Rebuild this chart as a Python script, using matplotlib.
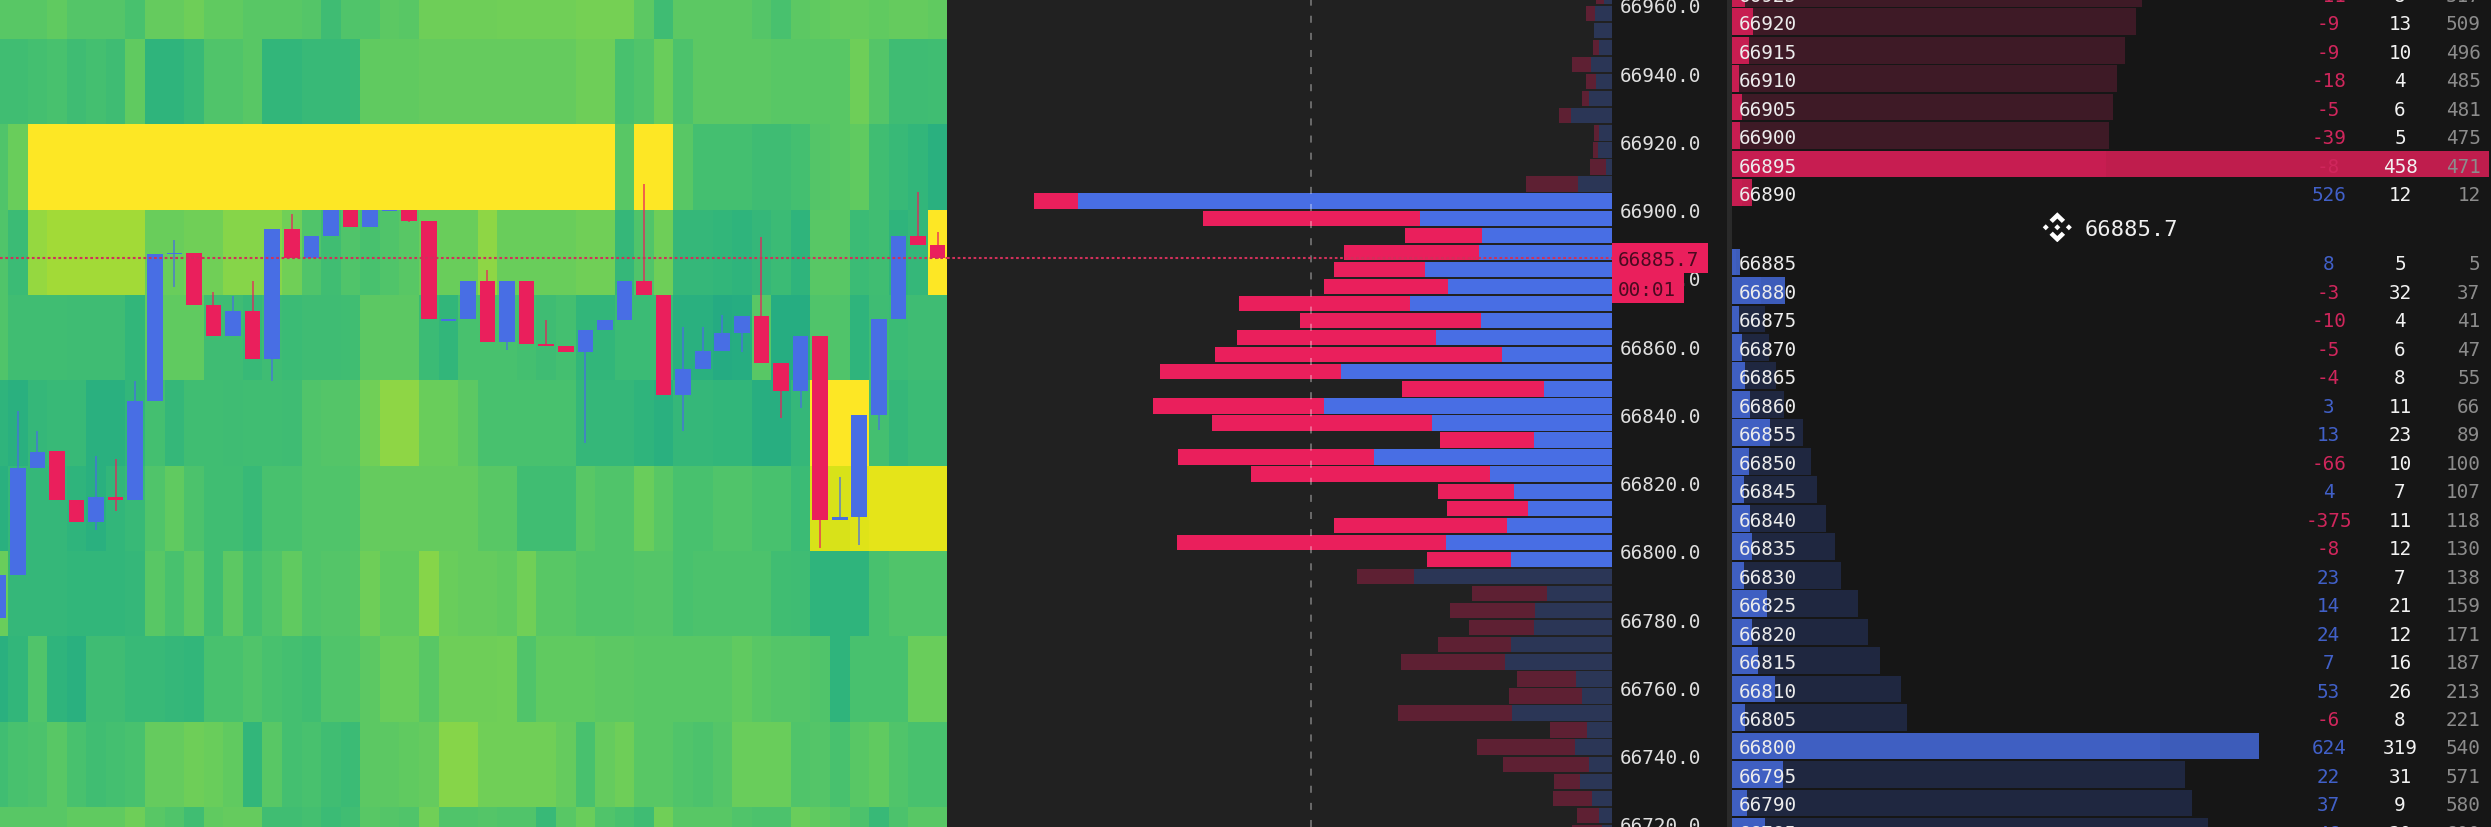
import numpy as np
import matplotlib
matplotlib.use('Agg')
import matplotlib.pyplot as plt
from matplotlib.patches import Polygon, Rectangle

W, H = 2491, 828

# heatmap, one list per 25 point price bucket, 49 time columns
heat_66950 = [74,74,74,76,73,73,73,70,77,77,79,76,76,74,74,74,73,67,72,72,75,74,79,79,79,79,80,80,80,80,81,81,81,75,67,75,75,75,75,73,70,75,76,77,77,76,77,77,76]
heat_66925 = [68,68,69,70,67,69,67,76,62,62,65,72,72,74,63,63,65,65,65,76,76,76,77,77,77,77,77,77,77,77,79,79,70,72,78,71,75,75,75,75,74,74,74,74,79,73,67,67,68]
heat_66900 = [72,78,100,100,100,100,100,100,100,100,100,100,100,100,100,100,100,100,100,100,100,100,100,100,100,100,100,100,100,100,100,100,74,100,100,74,69,69,69,67,67,69,73,74,76,68,65,63,60]
heat_66875 = [72,66,84,86,86,86,86,86,78,78,80,80,82,82,82,80,72,68,72,70,72,74,78,78,78,83,78,78,78,78,80,80,64,72,79,64,64,63,62,64,66,62,74,74,66,68,62,64,100]
heat_66850 = [72,68,68,68,67,67,67,63,76,76,76,67,67,65,67,66,67,67,68,75,75,75,66,63,70,70,70,69,67,69,63,63,66,66,66,60,60,57,58,74,58,58,72,72,62,67,66,67,67]
heat_66825 = [62,60,64,65,65,60,60,63,69,64,68,68,67,68,68,67,72,73,73,80,83,83,78,78,75,70,70,70,70,70,64,64,64,62,60,64,64,63,63,59,59,64,100,100,100,69,64,66,66]
heat_66800 = [60,64,64,64,62,60,63,65,72,76,71,68,68,65,70,70,72,72,72,77,77,77,77,77,77,74,74,68,68,68,74,72,72,78,74,70,70,72,72,70,70,66,94,94,95,96,96,96,96]
heat_66775 = [78,64,64,64,63,63,63,64,74,70,75,68,75,69,72,76,72,73,73,79,76,76,82,78,77,77,76,80,74,74,72,72,72,73,73,70,71,71,71,71,68,67,62,62,62,70,72,72,72]
heat_66750 = [60,63,72,62,60,67,67,65,65,64,63,70,70,72,70,69,68,72,72,75,78,78,74,79,79,79,80,72,76,76,76,75,75,74,74,74,74,74,76,74,73,73,72,62,70,70,70,78,78]
heat_66725 = [68,70,71,74,70,68,69,70,77,77,79,78,76,63,74,69,70,68,66,75,75,76,77,82,82,80,80,80,80,77,70,77,79,74,74,72,71,73,78,78,78,72,73,70,74,76,72,70,70]
heat_66700 = [74,74,74,74,76,76,76,79,74,72,68,76,77,77,68,68,69,66,68,74,73,72,80,72,72,73,72,72,65,74,78,72,70,67,80,74,74,74,72,71,71,78,76,74,71,65,71,74,74]
heat_buckets = [66950, 66925, 66900, 66875, 66850, 66825, 66800, 66775, 66750, 66725, 66700]

# candles
candle_open = [66780.3,66792.8,66824.2,66829.2,66815.0,66808.6,66815.7,66815.0,66844.0,66887.0,66887.3,66872.1,66862.9,66870.2,66856.2,66894.3,66885.8,66892.4,66900.0,66895.0,66899.5,66900.0,66896.7,66867.5,66868.0,66879.2,66861.2,66879.2,66860.7,66860.0,66858.4,66864.6,66867.7,66879.2,66875.0,66845.7,66853.3,66858.6,66863.8,66868.8,66855.1,66847.0,66862.9,66809.1,66810.0,66839.8,66868.0,66892.2,66889.6]
candle_close = [66792.8,66824.2,66829.1,66815.0,66808.6,66815.7,66815.0,66844.0,66887.0,66887.2,66872.1,66862.9,66870.2,66856.2,66894.3,66885.8,66892.4,66900.0,66895.0,66900.0,66900.0,66896.7,66868.0,66868.0,66879.2,66861.2,66879.2,66860.7,66860.0,66858.4,66864.6,66867.7,66879.2,66875.0,66845.7,66853.3,66858.6,66863.8,66868.8,66855.1,66847.0,66862.9,66809.1,66810.0,66839.8,66868.0,66892.4,66889.6,66885.7]
candle_high = [66792.8,66841.1,66835.0,66829.2,66815.0,66827.9,66827.0,66849.9,66887.0,66891.1,66887.3,66875.8,66874.8,66879.2,66894.3,66898.7,66892.4,66900.0,66900.0,66900.0,66900.0,66900.0,66896.7,66868.0,66879.2,66882.4,66879.2,66879.2,66867.8,66860.0,66864.6,66867.7,66879.2,66907.5,66875.0,66865.5,66865.5,66869.0,66868.8,66891.9,66855.1,66862.9,66862.9,66821.8,66839.8,66868.0,66892.4,66905.3,66893.4]
candle_low = [66780.3,66792.8,66824.2,66815.0,66808.6,66806.0,66811.8,66815.0,66844.0,66877.2,66872.1,66862.9,66862.9,66856.2,66849.9,66885.8,66885.8,66892.4,66895.0,66895.0,66899.5,66896.3,66868.0,66867.5,66868.0,66861.2,66859.0,66860.7,66860.0,66858.4,66831.5,66864.6,66867.7,66875.0,66845.7,66835.2,66853.3,66858.6,66858.4,66855.1,66838.9,66841.8,66800.8,66809.1,66801.8,66835.3,66868.0,66889.6,66885.5]
last_price = 66885.7

# volume profile
profile_price = [66960,66955,66950,66945,66940,66935,66930,66925,66920,66915,66910,66905,66900,66895,66890,66885,66880,66875,66870,66865,66860,66855,66850,66845,66840,66835,66830,66825,66820,66815,66810,66805,66800,66795,66790,66785,66780,66775,66770,66765,66760,66755,66750,66745,66740,66735,66730,66725,66720,66715]
profile_buy = [7.5,16.4,17.4,12.9,20.4,15.4,22.9,40.8,12.4,13.9,5.5,33.3,533.3,192,129.4,132.8,186.1,163.2,202,130.8,175.1,109.5,270.6,67.7,287.6,179.6,77.1,237.3,121.9,98,83.1,105,165.7,101,198,64.7,76.6,77.1,100.5,107,35.8,29.4,99.5,24.4,36.8,22.9,31.3,19.4,12.4,9.5]
profile_sell = [8,9,0.5,6,19.4,10.4,7,11.4,5.5,5,16.4,52.2,44.3,216.4,77.1,134.8,91.5,124.4,170.1,181.1,199,286.6,181.1,142.3,171.1,220.4,94.5,196.5,238.8,75.1,81.1,172.1,268.7,83.1,56.7,74.6,84.6,65.2,72.6,103.5,59.2,73.1,113.9,37.3,97.5,85.6,25.9,38.8,21.9,29.9]
area_low, area_high = 66795, 66900
marker_volume = 301
price_ticks = list(range(66720, 66961, 20))

# order book
ask_price = [66925,66920,66915,66910,66905,66900,66895,66890]
ask_delta = [-11,-9,-9,-18,-5,-39,-8,526]
ask_size = [8,13,10,4,6,5,458,12]
ask_total = [517,509,496,485,481,475,471,12]
bid_price = [66885,66880,66875,66870,66865,66860,66855,66850,66845,66840,66835,66830,66825,66820,66815,66810,66805,66800,66795,66790,66785]
bid_delta = [8,-3,-10,-5,-4,3,13,-66,4,-375,-8,23,14,24,7,53,-6,624,22,37,46]
bid_size = [5,32,4,6,8,11,23,10,7,11,12,7,21,12,16,26,8,319,31,9,20]
bid_total = [5,37,41,47,55,66,89,100,107,118,130,138,159,171,187,213,221,540,571,580,600]

BLUE = '#486ee4'
RED = '#ea1f5c'
DIM_BLUE = '#2b3656'
DIM_RED = '#5e2033'
MONO = 'DejaVu Sans Mono'
FS = 13.9


def px_axes(x0, y0, x1, y1):
    return fig.add_axes([x0 / W, 1 - y1 / H, (x1 - x0) / W, (y1 - y0) / H])


fig = plt.figure(figsize=(W / 100, H / 100), dpi=100, facecolor='#181818')
price_top = 66961.73
price_bottom = 66719.1

# --- heatmap + candles
ax = px_axes(0, 0, 947, H)
heat = np.array([heat_66950, heat_66925, heat_66900, heat_66875, heat_66850, heat_66825,
                 heat_66800, heat_66775, heat_66750, heat_66725, heat_66700], dtype=float)
# my readings of the greens came out too contrasty, pull them in a bit
heat = np.where(heat < 82, 74 + (heat - 74) * 0.75, heat)
col_edges = np.arange(heat.shape[1] + 1) - 0.5
row_edges = np.array(heat_buckets + [heat_buckets[-1] - 25]) + 25
ax.pcolormesh(col_edges, row_edges, heat, cmap='viridis', vmin=0, vmax=100, shading='flat', antialiased=False)

x = np.arange(len(candle_open))
o = np.array(candle_open)
c = np.array(candle_close)
colors = [BLUE if c[i] >= o[i] else RED for i in x]
ax.vlines(x, candle_low, candle_high, colors=colors, linewidth=1.1, alpha=0.85, zorder=3)
ax.bar(x, np.abs(c - o), bottom=np.minimum(o, c), width=0.8, color=colors, linewidth=0, zorder=4)
ax.axhline(last_price, color='#d0305a', lw=1.5, dashes=(1.3, 1.25), zorder=5)
ax.set_xlim(0.092, 48.48)
ax.set_ylim(price_bottom, price_top)
ax.axis('off')

# --- volume profile
ax2 = px_axes(947, 0, 1611.5, H)
ax2.set_facecolor('#212121')
buy = np.array(profile_buy)
sell = np.array(profile_sell)
prices = np.array(profile_price)
in_area = (prices >= area_low) & (prices <= area_high)
ax2.barh(prices + 2.5, buy, height=4.5, color=[BLUE if a else DIM_BLUE for a in in_area], linewidth=0)
ax2.barh(prices + 2.5, sell, height=4.5, left=buy, color=[RED if a else DIM_RED for a in in_area], linewidth=0)
ax2.axvline(marker_volume, color='white', alpha=0.42, lw=1.1, dashes=(4.6, 6.6), zorder=4)
ax2.axhline(last_price, color='#d0305a', lw=1.5, dashes=(1.3, 1.25), zorder=5)
ax2.set_xlim(664.5, 0)
ax2.set_ylim(price_bottom, price_top)
ax2.yaxis.tick_right()
ax2.set_yticks(price_ticks, [f'{p:.1f}' for p in price_ticks], family=MONO, fontsize=FS, color='#e0e0e0')
ax2.tick_params(axis='y', length=0, pad=6)
ax2.set_xticks([])
for s in ax2.spines.values():
    s.set_visible(False)

# --- order book
pitch = 28.47
first_center = -5.8
bid_start = 9.44
ax3 = px_axes(1732, 0, W, H)
ax3.set_facecolor('#161616')
ax4 = ax3.twiny()
ask_pos = np.arange(len(ask_price))
bid_pos = np.arange(len(bid_price)) + bid_start
ax3.barh(ask_pos, ask_total, height=0.94, color='#3e1a26', linewidth=0)
ax3.barh(bid_pos, bid_total, height=0.94, color='#1f2740', linewidth=0)
ax4.barh(ask_pos, ask_size, height=0.94, color=RED, alpha=0.8, linewidth=0)
ax4.barh(bid_pos, bid_size, height=0.94, color=BLUE, alpha=0.8, linewidth=0)
ax3.set_xlim(0, 957)
ax4.set_xlim(0, 459.3)
ax3.set_ylim((H - first_center) / pitch, -first_center / pitch)
for a in (ax3, ax4):
    a.set_xticks([])
    a.set_yticks([])
    for s in a.spines.values():
        s.set_visible(False)

tr = ax3.get_yaxis_transform()
rows = list(zip(ask_pos, ask_price, ask_delta, ask_size, ask_total)) + \
    list(zip(bid_pos, bid_price, bid_delta, bid_size, bid_total))
for pos, price, delta, size, total in rows:
    ax4.text((1739 - 1732) / (W - 1732), pos, str(price), transform=tr, family=MONO, fontsize=FS,
             color='#ececec', ha='left', va='center_baseline', zorder=6)
    ax4.text((2328.7 - 1732) / (W - 1732), pos, str(delta), transform=tr, family=MONO, fontsize=FS,
             color='#d0265c' if delta < 0 else '#4160c8', ha='center', va='center_baseline', zorder=6)
    ax4.text((2400 - 1732) / (W - 1732), pos, str(size), transform=tr, family=MONO, fontsize=FS,
             color='#f2f2f2', ha='center', va='center_baseline', zorder=6)
    ax4.text((2480.5 - 1732) / (W - 1732), pos, str(total), transform=tr, family=MONO, fontsize=FS,
             color='#8c8c8c', ha='right', va='center_baseline', zorder=6)

# --- overlay: divider, price tags, exchange logo
top = fig.add_axes([0, 0, 1, 1], facecolor='none')
top.set_xlim(0, W)
top.set_ylim(H, 0)
top.axis('off')
top.add_patch(Rectangle((1727, 0), 5, H, color='#2a2a2a', lw=0))
top.add_patch(Rectangle((1612, 244), 96, 30, color=RED, lw=0))
top.add_patch(Rectangle((1612, 274), 72, 30, color=RED, lw=0))
top.text(1618, 259, f'{last_price:.1f}', family=MONO, fontsize=FS, color='#4a0a20', ha='left', va='center_baseline')
top.text(1618, 289, '00:01', family=MONO, fontsize=FS, color='#4a0a20', ha='left', va='center_baseline')
top.text(2085, 228.5, f'{last_price:.1f}', family=MONO, fontsize=15.9, color='#f0f0f0', ha='left', va='center_baseline')

logo = px_axes(2057.3 - 15, 228.3 - 15, 2057.3 + 15, 228.3 + 15)
logo.set_xlim(-1, 1)
logo.set_ylim(-1, 1)
logo.axis('off')
for dx, dy in [(0, 0), (-0.77, 0), (0.77, 0)]:
    logo.add_patch(Polygon([(dx - 0.2, dy), (dx, dy + 0.2), (dx + 0.2, dy), (dx, dy - 0.2)], color='white', lw=0))
for sgn in (1, -1):
    logo.add_patch(Polygon([(0, sgn), (0.52, sgn * 0.5), (0.3, sgn * 0.29), (0, sgn * 0.58),
                            (-0.3, sgn * 0.29), (-0.52, sgn * 0.5)], color='white', lw=0))

fig.savefig('out.png', dpi=100, facecolor=fig.get_facecolor())
